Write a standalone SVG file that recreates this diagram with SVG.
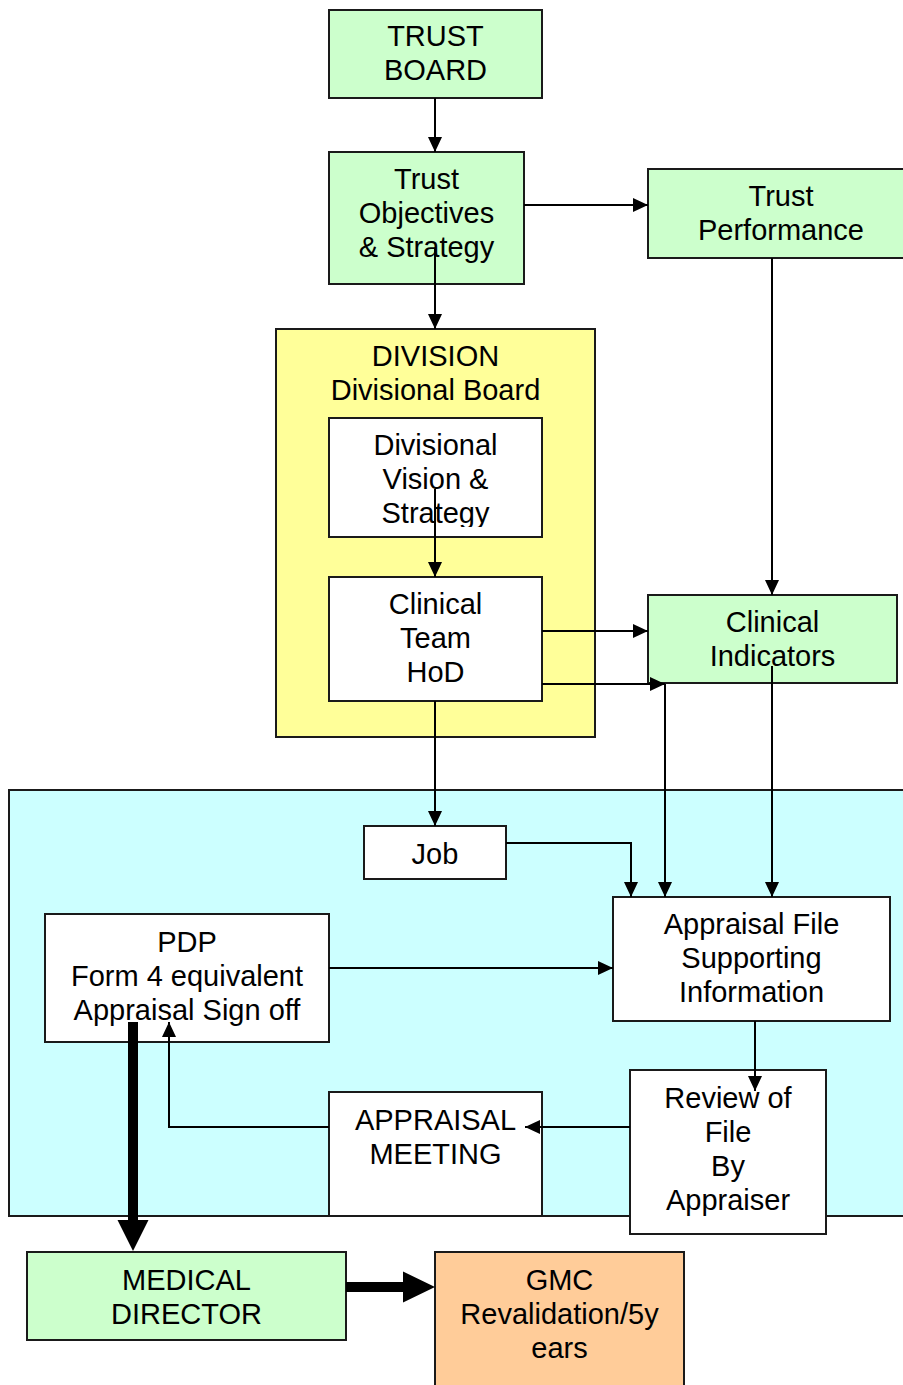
<svg xmlns="http://www.w3.org/2000/svg" width="903" height="1385" viewBox="0 0 903 1385">
<style>
  .box { stroke: #1a1a1a; stroke-width: 2; }
  .g { fill: #ccffcc; }
  .y { fill: #ffff99; }
  .c { fill: #ccffff; }
  .w { fill: #ffffff; }
  .o { fill: #ffcc99; }
  text { font-family: "Liberation Sans", Arial, sans-serif; font-size: 29px; fill: #000; text-anchor: middle; }
  .con { stroke: #000; stroke-width: 2; fill: none; marker-end: url(#ah); }
  .line { stroke: #000; stroke-width: 2; fill: none; }
  .thick { fill: #000; }
</style>
<defs>
  <marker id="ah" markerUnits="userSpaceOnUse" markerWidth="16" markerHeight="14" refX="15" refY="7" orient="auto">
    <path d="M0,0 L15,7 L0,14 z" fill="#000"/>
  </marker>
  <clipPath id="clipDV"><rect x="329" y="418" width="213" height="109"/></clipPath>
</defs>
<rect width="903" height="1385" fill="#ffffff"/>

<g id="appraisal-area">
  <rect class="box c" x="9" y="790" width="910" height="426"/>
</g>

<g id="trust-board">
  <rect class="box g" x="329" y="10" width="213" height="88"/>
  <text x="435.5" y="46">TRUST</text>
  <text x="435.5" y="80">BOARD</text>
</g>

<g id="trust-objectives">
  <rect class="box g" x="329" y="152" width="195" height="132"/>
  <text x="426.5" y="189">Trust</text>
  <text x="426.5" y="223">Objectives</text>
  <text x="426.5" y="257">&amp; Strategy</text>
</g>

<g id="trust-performance">
  <rect class="box g" x="648" y="169" width="266" height="89"/>
  <text x="781" y="206">Trust</text>
  <text x="781" y="240">Performance</text>
</g>

<g id="division">
  <rect class="box y" x="276" y="329" width="319" height="408"/>
  <text x="435.5" y="366">DIVISION</text>
  <text x="435.5" y="400">Divisional Board</text>
</g>

<g id="divisional-vision">
  <rect class="box w" x="329" y="418" width="213" height="119"/>
  <g clip-path="url(#clipDV)">
    <text x="435.5" y="455">Divisional</text>
    <text x="435.5" y="489">Vision &amp;</text>
    <text x="435.5" y="523">Strategy</text>
  </g>
</g>

<g id="clinical-team">
  <rect class="box w" x="329" y="577" width="213" height="124"/>
  <text x="435.5" y="614">Clinical</text>
  <text x="435.5" y="648">Team</text>
  <text x="435.5" y="682">HoD</text>
</g>

<g id="clinical-indicators">
  <rect class="box g" x="648" y="595" width="249" height="88"/>
  <text x="772.5" y="632">Clinical</text>
  <text x="772.5" y="666">Indicators</text>
</g>

<g id="job">
  <rect class="box w" x="364" y="826" width="142" height="53"/>
  <text x="435" y="864">Job</text>
</g>

<g id="appraisal-file">
  <rect class="box w" x="613" y="897" width="277" height="124"/>
  <text x="751.5" y="934">Appraisal File</text>
  <text x="751.5" y="968">Supporting</text>
  <text x="751.5" y="1002">Information</text>
</g>

<g id="pdp">
  <rect class="box w" x="45" y="914" width="284" height="128"/>
  <text x="187" y="952">PDP</text>
  <text x="187" y="986">Form 4 equivalent</text>
  <text x="187" y="1020">Appraisal Sign off</text>
</g>

<g id="review-of-file">
  <rect class="box w" x="630" y="1070" width="196" height="164"/>
  <text x="728" y="1108">Review of</text>
  <text x="728" y="1142">File</text>
  <text x="728" y="1176">By</text>
  <text x="728" y="1210">Appraiser</text>
</g>

<g id="appraisal-meeting">
  <rect class="box w" x="329" y="1092" width="213" height="124"/>
  <text x="435.5" y="1130">APPRAISAL</text>
  <text x="435.5" y="1164">MEETING</text>
</g>

<g id="medical-director">
  <rect class="box g" x="27" y="1252" width="319" height="88"/>
  <text x="186.5" y="1290">MEDICAL</text>
  <text x="186.5" y="1324">DIRECTOR</text>
</g>

<g id="gmc">
  <rect class="box o" x="435" y="1252" width="249" height="150"/>
  <text x="559.5" y="1290">GMC</text>
  <text x="559.5" y="1324">Revalidation/5y</text>
  <text x="559.5" y="1358">ears</text>
</g>

<g id="connectors">
  <path class="con" d="M435,98 L435,152"/>
  <path class="con" d="M435,248 L435,329"/>
  <path class="con" d="M524,205 L648,205"/>
  <path class="con" d="M772,258 L772,595"/>
  <path class="con" d="M435,489 L435,577"/>
  <path class="con" d="M542,631 L648,631"/>
  <path class="con" d="M542,684 L665,684"/>
  <path class="con" d="M665,684 L665,897"/>
  <path class="con" d="M772,666 L772,897"/>
  <path class="con" d="M435,701 L435,826"/>
  <path class="con" d="M506,843 L631,843 L631,897"/>
  <path class="con" d="M329,968 L613,968"/>
  <path class="con" d="M755,1021 L755,1091"/>
  <path class="con" d="M630,1127 L525,1127"/>
  <path class="con" d="M329,1127 L169,1127 L169,1022"/>
  <rect class="thick" x="128" y="1022" width="10" height="200"/>
  <polygon class="thick" points="117.5,1220 148.5,1220 133,1251"/>
  <rect class="thick" x="346" y="1282" width="59" height="10"/>
  <polygon class="thick" points="403,1271.5 403,1302.5 435,1287"/>
</g>
</svg>
